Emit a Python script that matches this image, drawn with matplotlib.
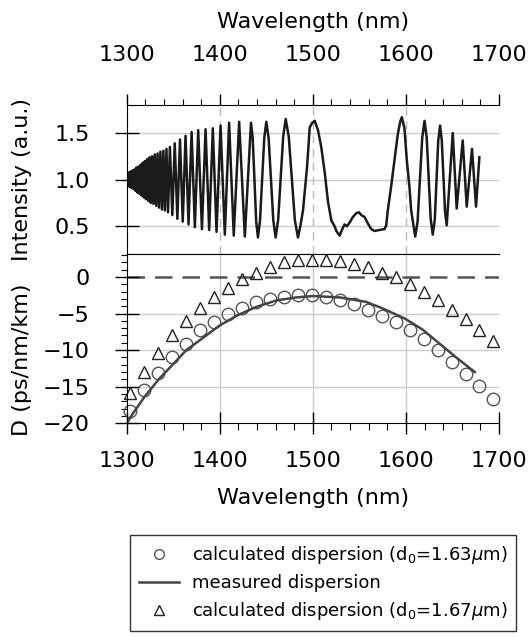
import matplotlib
matplotlib.use('Agg')
import matplotlib.pyplot as plt
from matplotlib.lines import Line2D
from matplotlib.ticker import MultipleLocator

# interference spectrum (extrema and a few shoulder points)
wl_int = [1300.0, 1300.9, 1301.8, 1302.7, 1303.6, 1304.5, 1305.4, 1306.4, 1307.4, 1308.4,
          1309.4, 1310.4, 1311.5, 1312.6, 1313.7, 1314.8, 1315.9, 1317.1, 1318.3, 1319.5,
          1320.7, 1322.0, 1323.3, 1324.6, 1325.9, 1327.3, 1328.7, 1330.1, 1331.6, 1333.1,
          1334.6, 1336.2, 1337.8, 1339.4, 1341.0, 1342.7, 1344.4, 1346.4, 1349.0, 1351.6,
          1354.4, 1357.2, 1360.2, 1363.2, 1366.4, 1369.7, 1373.2, 1376.8, 1380.8, 1384.7,
          1388.6, 1392.5, 1396.5, 1400.8, 1405.4, 1410.0, 1415.0, 1420.8, 1426.9, 1433.5,
          1435.4, 1439.1, 1441.0, 1443.2, 1447.8, 1450.0, 1452.5, 1457.5, 1460.0, 1462.7,
          1468.1, 1470.8, 1474.1, 1480.7, 1484.0, 1486.5, 1489.4, 1493.7, 1496.6, 1499.4,
          1502.0, 1505.5, 1509.0, 1512.7, 1516.3, 1519.9, 1523.4, 1525.2, 1528.7, 1531.6,
          1534.0, 1536.6, 1539.5, 1543.0, 1546.6, 1549.5, 1552.0, 1555.5, 1559.1, 1562.7,
          1566.0, 1571.6, 1577.0, 1578.8, 1580.5, 1584.0, 1587.7, 1591.3, 1593.8, 1595.6,
          1598.4, 1600.9, 1603.8, 1605.6, 1610.0, 1612.5, 1617.5, 1620.0, 1622.3, 1626.6,
          1628.8, 1631.0, 1634.7, 1636.7, 1638.5, 1642.0, 1643.8, 1650.3, 1654.5, 1661.0,
          1665.3, 1671.0, 1675.3, 1678.9]
intensity = [1.00, 1.07, 0.93, 1.08, 0.92, 1.09, 0.91, 1.10, 0.90, 1.11,
             0.88, 1.13, 0.86, 1.14, 0.85, 1.16, 0.83, 1.18, 0.81, 1.20,
             0.79, 1.22, 0.77, 1.24, 0.75, 1.25, 0.74, 1.27, 0.72, 1.28,
             0.70, 1.30, 0.68, 1.31, 0.67, 1.33, 0.65, 1.35, 0.62, 1.39,
             0.58, 1.43, 0.55, 1.47, 0.52, 1.51, 0.49, 1.53, 0.47, 1.54,
             0.46, 1.55, 0.44, 1.58, 0.41, 1.61, 0.40, 1.62, 0.39, 1.61,
             1.44, 0.55, 0.38, 0.56, 1.45, 1.62, 1.44, 0.56, 0.38, 0.57,
             1.46, 1.65, 1.46, 0.56, 0.38, 0.50, 0.67, 1.13, 1.56, 1.61,
             1.63, 1.53, 1.35, 1.08, 0.76, 0.56, 0.50, 0.45, 0.40, 0.47,
             0.52, 0.50, 0.54, 0.60, 0.64, 0.65, 0.62, 0.60, 0.53, 0.47,
             0.45, 0.46, 0.47, 0.51, 0.67, 0.92, 1.21, 1.49, 1.62, 1.67,
             1.55, 1.21, 0.92, 0.67, 0.39, 0.55, 1.45, 1.63, 1.45, 0.58,
             0.41, 0.57, 1.42, 1.58, 1.42, 0.66, 0.51, 1.50, 0.69, 1.42,
             0.71, 1.33, 0.71, 1.24]

# dispersion
calc_wl = [1304, 1319, 1334, 1349, 1364, 1379, 1394, 1409, 1424, 1439, 1454, 1469, 1484, 1499,
           1514, 1529, 1544, 1559, 1574, 1589, 1604, 1619, 1634, 1649, 1664, 1679, 1694]
calc_163 = [-18.3, -15.5, -13.1, -10.9, -9.2, -7.3, -6.1, -5.1, -4.2, -3.4, -3.0, -2.7, -2.4, -2.5,
            -2.8, -3.2, -3.7, -4.5, -5.4, -6.2, -7.3, -8.5, -10.0, -11.6, -13.2, -14.9, -16.7]
calc_167 = [-15.9, -13.0, -10.4, -8.0, -6.0, -4.3, -2.7, -1.5, -0.3, 0.6, 1.4, 2.0, 2.3, 2.3,
            2.3, 2.2, 1.8, 1.4, 0.6, 0.0, -0.9, -2.0, -3.2, -4.5, -5.8, -7.2, -8.7]
meas_wl = [1300, 1307, 1319, 1335, 1350, 1364, 1379, 1399, 1418, 1439, 1461, 1482, 1500,
           1529, 1557, 1575, 1599, 1618, 1636, 1654, 1674]
meas_D = [-20.0, -18.6, -16.4, -13.9, -11.9, -10.0, -8.6, -6.7, -5.3, -4.1, -3.2, -2.8, -2.6,
          -2.8, -3.4, -4.3, -5.7, -7.2, -9.1, -11.0, -13.0]

labels = ['calculated dispersion (d$_0$=1.63$\\mu$m)',
          'measured dispersion',
          'calculated dispersion (d$_0$=1.67$\\mu$m)']

FS = 16
grid_c = '#cccccc'

fig = plt.figure(figsize=(5.32, 6.37), dpi=100)
ax1 = fig.add_axes([0.2382, 0.6008, 0.6998, 0.2344])
ax2 = fig.add_axes([0.2382, 0.3355, 0.6998, 0.2653])

# ---- top panel: spectrum
for y in [0.5, 1.0, 1.5]:
    ax1.axhline(y, color=grid_c, lw=1, zorder=0)
for x in [1400, 1500, 1600]:
    ax1.axvline(x, color='#bbbbbb', lw=1, ls=(0, (6, 4)), zorder=0)
ax1.plot(wl_int, intensity, color='#1a1a1a', lw=1.8)
ax1.set_xlim(1300, 1700)
ax1.set_ylim(0.2, 1.8)
ax1.xaxis.tick_top()
ax1.xaxis.set_label_position('top')
ax1.xaxis.set_major_locator(MultipleLocator(100))
ax1.xaxis.set_minor_locator(MultipleLocator(20))
ax1.set_yticks([0.5, 1.0, 1.5])
ax1.set_yticklabels(['0.5', '1.0', '1.5'])
ax1.tick_params(axis='x', which='major', direction='out', length=8, width=1, pad=21, labelsize=FS)
ax1.tick_params(axis='x', which='minor', direction='out', length=4, width=0.8)
ax1.tick_params(axis='y', which='major', direction='inout', length=17, width=1, pad=18, labelsize=FS)
ax1.spines['right'].set_visible(False)
ax1.set_xlabel('Wavelength (nm)', fontsize=FS, va='center')
ax1.xaxis.set_label_coords(0.5, 1.556)
ax1.set_ylabel('Intensity (a.u.)', fontsize=FS, va='center')
ax1.yaxis.set_label_coords(-0.281, 0.5)

# ---- bottom panel: dispersion
for x in [1400, 1500, 1600]:
    ax2.axvline(x, color=grid_c, lw=1, zorder=0)
for y in [-5, -10, -15]:
    ax2.axhline(y, color=grid_c, lw=1, zorder=0)
ax2.axhline(0, color='#555555', lw=1.8, ls=(0, (7, 4)), zorder=1)
ax2.plot(calc_wl, calc_163, 'o', mfc='none', mec='#555555', ms=9, mew=1, clip_on=False)
ax2.plot(meas_wl, meas_D, '-', color='#444444', lw=1.8)
ax2.plot(calc_wl, calc_167, '^', mfc='none', mec='#222222', ms=9, mew=1, clip_on=False)
ax2.set_xlim(1300, 1700)
ax2.set_ylim(-20, 3.1)
ax2.xaxis.set_major_locator(MultipleLocator(100))
ax2.xaxis.set_minor_locator(MultipleLocator(20))
ax2.set_yticks([-20, -15, -10, -5, 0])
ax2.yaxis.set_minor_locator(MultipleLocator(1))
ax2.tick_params(axis='x', which='major', direction='inout', length=16, width=1, pad=12, labelsize=FS)
ax2.tick_params(axis='x', which='minor', direction='out', length=5, width=0.8)
ax2.tick_params(axis='y', which='major', direction='inout', length=17, width=1, pad=18, labelsize=FS)
ax2.tick_params(axis='y', which='minor', direction='out', length=4.5, width=0.8)
ax2.spines['right'].set_visible(False)
ax2.set_xlabel('Wavelength (nm)', fontsize=FS, va='center')
ax2.xaxis.set_label_coords(0.5, -0.442)
ax2.set_ylabel('D (ps/nm/km)', fontsize=FS, va='center')
ax2.yaxis.set_label_coords(-0.281, 0.375)

# ---- legend
handles = [Line2D([], [], ls='none', marker='o', mfc='none', mec='#555555', ms=7, mew=1),
           Line2D([], [], color='#444444', lw=1.8),
           Line2D([], [], ls='none', marker='^', mfc='none', mec='#222222', ms=7, mew=1)]
leg = fig.legend(handles, labels, loc='upper left', bbox_to_anchor=(0.245, 1 - 535 / 637),
                 fontsize=13, frameon=True, fancybox=False, framealpha=1, edgecolor='#333333',
                 handlelength=2.2, handletextpad=0.7, labelspacing=0.45, borderpad=0.5,
                 borderaxespad=0)
leg.get_frame().set_linewidth(1)

fig.savefig('out.png', dpi=100)
